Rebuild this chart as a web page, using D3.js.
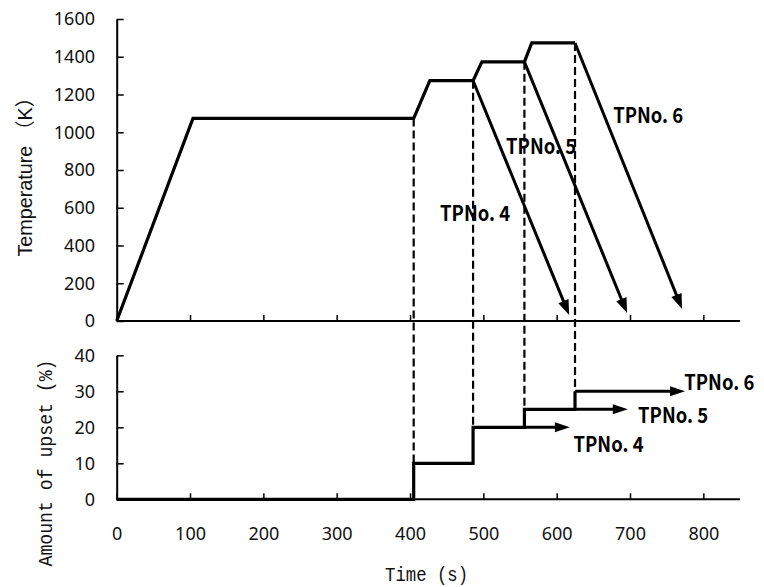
<!DOCTYPE html>
<html>
<head>
<meta charset="utf-8">
<script src="https://cdn.jsdelivr.net/npm/d3@7"></script>
<style>
  html, body { margin: 0; padding: 0; background: #fff; }
  svg { display: block; }
</style>
</head>
<body>
<svg id="chart" width="764" height="587"></svg>
<script>
// ---- data ----
const timeTicks = [0, 100, 200, 300, 400, 500, 600, 700, 800];
const tempTicks = [0, 200, 400, 600, 800, 1000, 1200, 1400, 1600];
const upsetTicks = [0, 10, 20, 30, 40];

// heating schedule (time s, temperature K)
const heatTime = [0, 104, 405, 427, 486, 498, 556, 566, 625];
const heatTemp = [0, 1073, 1073, 1273, 1273, 1373, 1373, 1473, 1473];

// specimens and their cooling / deformation paths
const specimens = ["TPNo. 4", "TPNo. 5", "TPNo. 6"];
const coolStartTime = [486, 556, 625];
const coolStartTemp = [1273, 1373, 1473];
const coolEndTime = [617, 696, 771];
const coolEndTemp = [32, 42, 64];

// upset steps: time of each compression and cumulative upset (%)
const stepTime = [405, 486, 556, 625];
const stepUpset = [10, 20, 25, 30];
const stepTemp = [1073, 1273, 1373, 1473];

// holding line after each specimen's last step
const holdStartTime = [556, 625, 625];
const holdUpset = [20, 25, 30];
const holdEndTime = [618, 697, 775];

// label anchors (data units)
const tempLabelTime = [441, 531, 677];
const tempLabelTemp = [530, 885, 1049];
const upsetLabelTime = [623, 711, 774];
const upsetLabelValue = [13.1, 21.2, 30.3];

// ---- layout ----
const svg = d3.select("#chart");
const x = d3.scaleLinear().domain([0, 850]).range([116.7, 740]);
const yT = d3.scaleLinear().domain([0, 1600]).range([321, 19]);
const yU = d3.scaleLinear().domain([0, 40]).range([499.3, 355.3]);

const tickFont = "'Noto Sans', sans-serif";
const labelFont = "'Noto Sans CJK JP', sans-serif";
const plain = d3.format("d");

function styleAxis(g) {
  g.select(".domain").attr("stroke", "#000").attr("stroke-width", 2);
  g.selectAll(".tick line").attr("stroke", "#000").attr("stroke-width", 1.5);
  g.selectAll(".tick text").attr("fill", "#111").attr("font-size", 18).attr("font-family", tickFont);
}

// temperature panel axes
svg.append("g").attr("transform", `translate(0,${yT(0)})`)
  .call(d3.axisBottom(x).tickValues(timeTicks.slice(1)).tickSize(-6).tickSizeOuter(0).tickFormat(""))
  .call(styleAxis)
  .call(g => g.select(".domain").attr("d", `M${x(0)},0H${x(850)}`));
svg.append("g").attr("transform", `translate(${x(0)},0)`)
  .call(d3.axisLeft(yT).tickValues(tempTicks).tickSize(-7).tickSizeOuter(0).tickPadding(21.7).tickFormat(plain))
  .call(styleAxis);

// upset panel axes
svg.append("g").attr("transform", `translate(0,${yU(0)})`)
  .call(d3.axisBottom(x).tickValues(timeTicks).tickSize(-6).tickSizeOuter(0).tickPadding(28).tickFormat(plain))
  .call(styleAxis)
  .call(g => g.select(".domain").attr("d", `M${x(0)},0H${x(850)}`));
svg.append("g").attr("transform", `translate(${x(0)},0)`)
  .call(d3.axisLeft(yU).tickValues(upsetTicks).tickSize(-7).tickSizeOuter(0).tickPadding(21.7).tickFormat(plain))
  .call(styleAxis);

// dashed guides linking each step in both panels
svg.append("g").selectAll("line").data(stepTime).join("line")
  .attr("x1", d => x(d)).attr("x2", d => x(d))
  .attr("y1", (d, i) => yT(stepTemp[i]))
  .attr("y2", (d, i) => yU(stepUpset[i]))
  .attr("stroke", "#000").attr("stroke-width", 2.2).attr("stroke-dasharray", "8,4");

const lineT = d3.line().x(d => x(d[0])).y(d => yT(d[1]));
const lineU = d3.line().x(d => x(d[0])).y(d => yU(d[1]));

// heating path
svg.append("path")
  .attr("d", lineT(heatTime.map((t, i) => [t, heatTemp[i]])))
  .attr("fill", "none").attr("stroke", "#000").attr("stroke-width", 3.2)
  .attr("stroke-linejoin", "miter");

// upset staircase
const upsetPts = [[0, 0]];
stepTime.forEach((t, i) => {
  upsetPts.push([t, i === 0 ? 0 : stepUpset[i - 1]]);
  upsetPts.push([t, stepUpset[i]]);
});
svg.append("path")
  .attr("d", lineU(upsetPts))
  .attr("fill", "none").attr("stroke", "#000").attr("stroke-width", 3.2);

// arrow drawing helper: shaft plus filled head ending at (x2,y2)
function arrow(x1, y1, x2, y2, headLen, headW) {
  const dx = x2 - x1, dy = y2 - y1, L = Math.hypot(dx, dy);
  const ux = dx / L, uy = dy / L;
  const bx = x2 - ux * headLen, by = y2 - uy * headLen;
  svg.append("line")
    .attr("x1", x1).attr("y1", y1)
    .attr("x2", x2 - ux * headLen * 0.6).attr("y2", y2 - uy * headLen * 0.6)
    .attr("stroke", "#000").attr("stroke-width", 3);
  svg.append("path")
    .attr("d", `M${x2},${y2}L${bx - uy * headW / 2},${by + ux * headW / 2}L${bx + uy * headW / 2},${by - ux * headW / 2}Z`)
    .attr("fill", "#000");
}

specimens.forEach((s, i) => {
  arrow(x(coolStartTime[i]), yT(coolStartTemp[i]), x(coolEndTime[i]), yT(coolEndTemp[i]), 15, 11);
  arrow(x(holdStartTime[i]), yU(holdUpset[i]), x(holdEndTime[i]), yU(holdUpset[i]), 15, 10);
});

// specimen labels
function tpLabel(px, py, text) {
  svg.append("text")
    .attr("x", px).attr("y", py)
    .attr("font-family", labelFont).attr("font-weight", 700).attr("font-size", 21)
    .attr("textLength", 70).attr("lengthAdjust", "spacingAndGlyphs")
    .attr("fill", "#000")
    .text(text);
}
specimens.forEach((s, i) => {
  tpLabel(x(tempLabelTime[i]), yT(tempLabelTemp[i]), s);
  tpLabel(x(upsetLabelTime[i]), yU(upsetLabelValue[i]), s);
});

// axis titles
svg.append("text")
  .attr("transform", `translate(32,172) rotate(-90)`)
  .attr("text-anchor", "middle")
  .attr("font-family", "'Liberation Sans', 'Noto Sans CJK JP', sans-serif").attr("font-size", 20)
  .attr("textLength", 169).attr("lengthAdjust", "spacingAndGlyphs")
  .attr("fill", "#111")
  .text("Temperature （K）");

svg.append("text")
  .attr("transform", `translate(52,463) rotate(-90)`)
  .attr("text-anchor", "middle")
  .attr("font-family", "'Liberation Mono', monospace").attr("font-size", 20)
  .attr("textLength", 207).attr("lengthAdjust", "spacingAndGlyphs")
  .attr("fill", "#111")
  .text("Amount of upset (%)");

svg.append("text")
  .attr("x", 426.5).attr("y", 581)
  .attr("text-anchor", "middle")
  .attr("font-family", "'Liberation Mono', monospace").attr("font-size", 20)
  .attr("textLength", 83).attr("lengthAdjust", "spacingAndGlyphs")
  .attr("fill", "#111")
  .text("Time (s)");
</script>
</body>
</html>
